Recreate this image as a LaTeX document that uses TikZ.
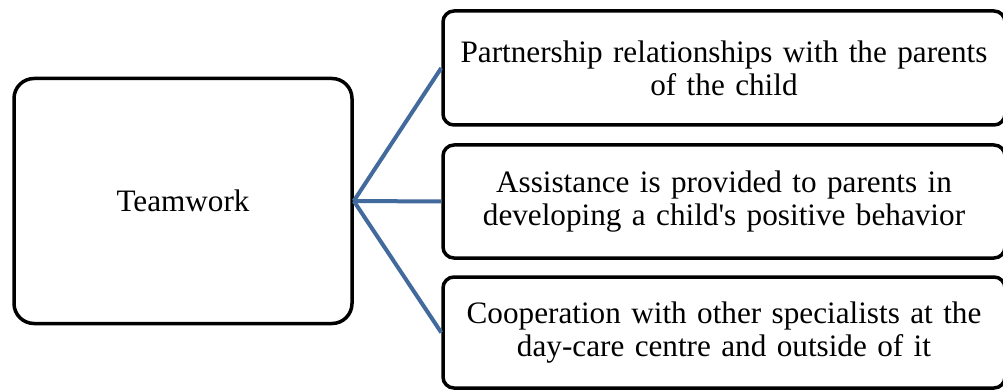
\documentclass[tikz,border=0pt]{standalone}
\usepackage{fontspec}
\setmainfont{Liberation Serif}
\definecolor{linkblue}{RGB}{67,106,157}
\tikzset{
  mainbox/.style={draw, line width=3.5pt, rounded corners=20pt,
    minimum width=338pt, minimum height=245pt, align=center},
  itembox/.style={draw, line width=3.5pt, rounded corners=11pt,
    minimum width=562pt, align=center, text width=540pt},
  link/.style={linkblue, line width=4pt}
}
\begin{document}
\begin{tikzpicture}[x=1pt, y=-1pt, font=\fontsize{31.2}{33}\selectfont]
  \useasboundingbox (0, 0) rectangle (1003, 390);
  \clip (0, 0) rectangle (1003, 390);
  \node[mainbox] (team) at (183, 201) {Teamwork};
  \node[itembox, minimum height=114pt] (parents) at (724, 68)
    {Partnership relationships with the parents\\of the child};
  \node[itembox, minimum height=113pt] (assist) at (724, 201.5)
    {Assistance is provided to parents in\\developing a child\textquotesingle s positive behavior};
  \node[itembox, minimum height=111pt] (coop) at (724, 332.5)
    {Cooperation with other specialists at the\\day-care centre and outside of it};
  \foreach \target in {parents, assist, coop} {
    \draw[link] (team.east) -- (\target.west);
  }
\end{tikzpicture}
\end{document}
